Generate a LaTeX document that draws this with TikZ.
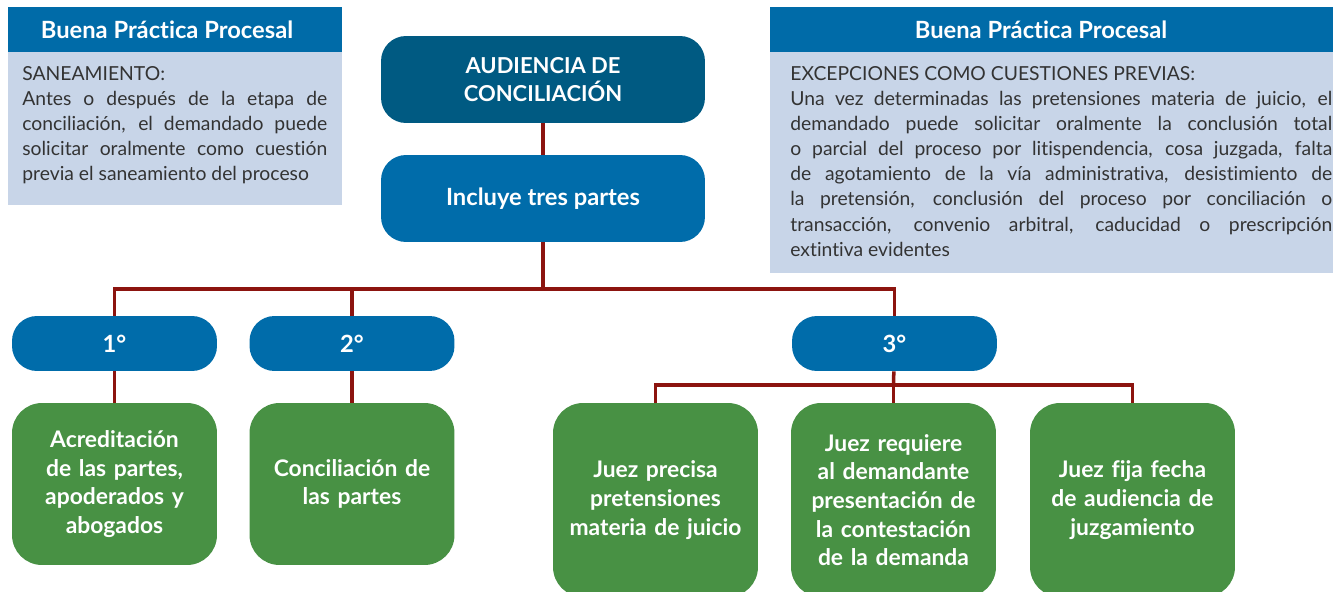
\documentclass[tikz,border=0pt]{standalone}
\usepackage{fontspec}
\setmainfont{Lato}[Ligatures=NoCommon]
\hyphenpenalty=10000

\definecolor{hdrblue}{RGB}{0,107,168}
\definecolor{paleblue}{RGB}{200,213,232}
\definecolor{deepblue}{RGB}{0,90,130}
\definecolor{midblue}{RGB}{0,108,170}
\definecolor{leafgreen}{RGB}{72,145,68}
\definecolor{linkred}{RGB}{140,20,15}
\definecolor{bodygray}{RGB}{51,51,51}

\begin{document}
\begin{tikzpicture}[x=0.02cm, y=-0.02cm,
    title/.style={text=white, font=\bfseries\fontsize{13.5}{16}\selectfont},
    note/.style={text=bodygray, inner sep=0pt, align=justify,
      font=\fontsize{11}{14.3}\selectfont},
    topbox/.style={fill=deepblue, text=white, rounded corners=0.5cm, align=center,
      minimum width=6.48cm, minimum height=1.74cm,
      font=\bfseries\fontsize{12.5}{16}\selectfont},
    midbox/.style={topbox, fill=midblue, font=\bfseries\fontsize{13.5}{16}\selectfont},
    ordbox/.style={midbox, minimum width=4.1cm, minimum height=1.1cm},
    leafbox/.style={fill=leafgreen, text=white, rounded corners=0.6cm, align=center,
      minimum width=4.1cm, text width=3.8cm,
      font=\bfseries\fontsize{13}{16.3}\selectfont},
    link/.style={draw=linkred, line width=2pt}]
  \path[use as bounding box, clip] (0,0) rectangle (1333,592);

  % Left note: saneamiento.
  \fill[hdrblue] (8,7) rectangle (342,52);
  \fill[paleblue] (8,52) rectangle (342,205);
  \node[title] (ltitle) at (167,29.5) {Buena Práctica Procesal};
  \node[note, text width=6.1cm, anchor=north west] (lnote) at (22,66)
    {SANEAMIENTO:\\Antes o después de la etapa de\linebreak conciliación, el
     demandado puede\linebreak solicitar oralmente como cuestión\linebreak
     previa el saneamiento del proceso};

  % Right note: excepciones.
  \fill[hdrblue] (770,7) rectangle (1340,52);
  \fill[paleblue] (770,52) rectangle (1340,273);
  \node[title] (rtitle) at (1041,29.5) {Buena Práctica Procesal};
  \node[note, text width=10.84cm, anchor=north west] (rnote) at (790,66)
    {EXCEPCIONES COMO CUESTIONES PREVIAS:\\Una vez determinadas las pretensiones
     materia de juicio, el\linebreak demandado puede solicitar oralmente la
     conclusión total\linebreak o parcial del proceso por litispendencia, cosa
     juzgada, falta\linebreak de agotamiento de la vía administrativa,
     desistimiento de\linebreak la pretensión, conclusión del proceso por
     conciliación o\linebreak transacción, convenio arbitral, caducidad o
     prescripción\linebreak extintiva evidentes};

  % Main chain.
  \node[topbox] (aud) at (543,79.5) {AUDIENCIA DE\\CONCILIACIÓN};
  \node[midbox] (inc) at (543,198.5) {Incluye tres partes};

  % The three parts.
  \node[ordbox] (p1) at (114.5,343.5) {1°};
  \node[ordbox] (p2) at (352,343.5) {2°};
  \node[ordbox] (p3) at (894.5,343.5) {3°};

  % Leaves.
  \node[leafbox, minimum height=3.24cm] (g1) at (114.5,484)
    {Acreditación\\de las partes,\\apoderados y\\abogados};
  \node[leafbox, minimum height=3.24cm] (g2) at (352,484)
    {Conciliación de\\las partes};
  \node[leafbox, minimum height=3.88cm] (j1) at (655.5,500)
    {Juez precisa\\pretensiones\\materia de juicio};
  \node[leafbox, minimum height=3.88cm] (j2) at (893.5,500)
    {Juez requiere\\al demandante\\presentación de\\la contestación\\de la demanda};
  \node[leafbox, minimum height=3.88cm] (j3) at (1132.5,500)
    {Juez fija fecha\\de audiencia de\\juzgamiento};

  % Connectors.
  \coordinate (bus) at (543,289);
  \coordinate (bus3) at (893.5,385);
  \draw[link] (aud) -- (inc);
  \draw[link] (inc) -- (bus);
  \draw[link] (p1.north) |- (bus) -| (p3.north);
  \draw[link] (p2.north) -- (p2.north |- bus);
  \draw[link] (p1) -- (g1);
  \draw[link] (p2) -- (g2);
  \draw[link] (p3) -- (bus3);
  \draw[link] (j1.north) |- (bus3) -| (j3.north);
  \draw[link] (bus3) -- (j2);
\end{tikzpicture}
\end{document}
